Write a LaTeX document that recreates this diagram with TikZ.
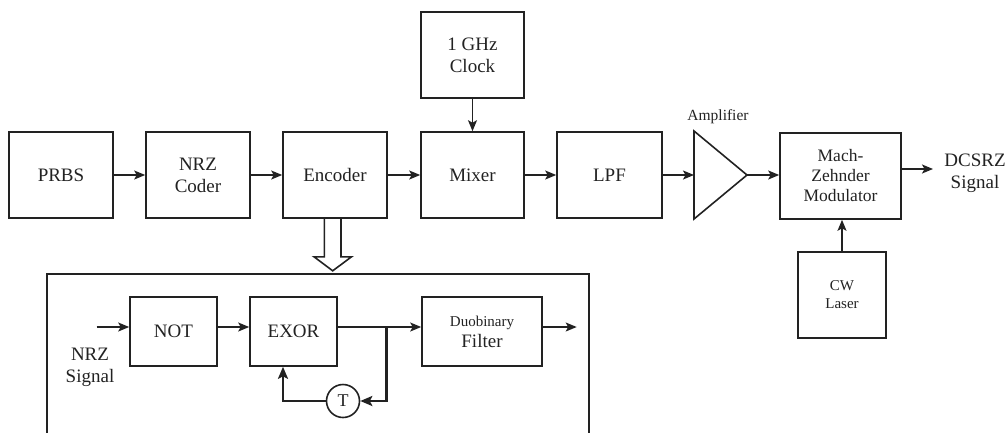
\documentclass[tikz,border=0pt]{standalone}
\usepackage{fontspec}
\setmainfont{Liberation Serif}
\usetikzlibrary{arrows.meta,calc}
\definecolor{ink}{HTML}{222222}
\tikzset{
  box/.style={draw=ink, line width=1.6pt, inner sep=0pt, align=center, text=ink,
    font=\fontsize{19}{22}\selectfont},
  link/.style={draw=ink, line width=1.6pt, -{Stealth[length=11pt,width=9pt,inset=2.5pt]}},
  fb/.style={draw=ink, line width=2.6pt},
  lbl/.style={align=center, text=ink, inner sep=0pt},
}
\begin{document}
\begin{tikzpicture}[x=1pt,y=-1pt]
\useasboundingbox (0,0) rectangle (1008,432);

% transmitter chain
\node[box, minimum width=104pt, minimum height=86pt] (prbs) at (61,175) {PRBS};
\node[box, minimum width=104pt, minimum height=86pt] (nrz) at (198,175) {NRZ\\Coder};
\node[box, minimum width=104pt, minimum height=86pt] (enc) at (335,175) {Encoder};
\node[box, minimum width=103pt, minimum height=86pt] (mix) at (472.5,175) {Mixer};
\node[box, minimum width=103pt, minimum height=86pt] (clk) at (472.5,55) {1 GHz\\Clock};
\node[box, minimum width=105pt, minimum height=86pt] (lpf) at (609.5,175) {LPF};
\node[box, minimum width=121pt, minimum height=86pt, font=\fontsize{17.5}{20}\selectfont]
  (mzm) at (840.5,176) {Mach-\\Zehnder\\Modulator};
\node[box, minimum width=88pt, minimum height=86pt, font=\fontsize{15}{18}\selectfont]
  (laser) at (842,295) {CW\\Laser};

% amplifier
\coordinate (ampin) at (694,175);
\coordinate (ampout) at (747,175);
\draw[ink, line width=1.6pt, line join=miter] (694,131) -- (ampout) -- (694,219) -- cycle;
\node[lbl, font=\fontsize{15.5}{18}\selectfont] (amplbl) at (718,117) {Amplifier};

% output
\coordinate (mzout) at (933,169);
\node[lbl, font=\fontsize{19}{22}\selectfont] (dcsrz) at (975,173) {DCSRZ\\Signal};

\draw[link] (prbs) -- (nrz);
\draw[link] (nrz) -- (enc);
\draw[link] (enc) -- (mix);
\draw[link] (mix) -- (lpf);
\draw[link] (clk) -- (mix);
\draw[link] (lpf.east) -- (ampin);
\draw[link] (ampout) -- (mzm.west |- ampout);
\draw[link] (laser.north) -- (laser.north |- mzm.south);
\draw[link] (mzm.east |- mzout) -- (mzout);

% hollow arrow to the encoder detail
\coordinate (hs) at ($(enc.south)+(-2.3,0)$);
\draw[ink, line width=1.6pt] ($(hs)+(-8.4,0)$) -- ++(0,38) -- ++(-10.3,0) -- ($(hs)+(0,52)$)
  -- ($(hs)+(18.8,38)$) -- ++(-10.5,0) -- ++(0,-38);

% encoder detail frame
\draw[ink, line width=1.6pt] (47,440) -- (47,274) -- (589,274) -- (589,440);

\coordinate (mainline) at (0,327);
\node[box, minimum width=87pt, minimum height=69pt] (not) at (173.5,331.5) {NOT};
\node[box, minimum width=87pt, minimum height=69pt] (exor) at (293.5,331.5) {EXOR};
\node[box, minimum width=120pt, minimum height=69pt] (duo) at (482,331.5)
  {{\fontsize{15}{18}\selectfont Duobinary}\\[-1pt]Filter};
\node[draw=ink, circle, line width=1.6pt, minimum size=33pt, inner sep=0pt, text=ink,
  font=\fontsize{18}{20}\selectfont] (t) at (343,401) {T};

\coordinate (nrzin) at (96.7,327);
\node[lbl, font=\fontsize{19}{22}\selectfont] (nrzlbl) at (90,367) {NRZ\\Signal};
\coordinate (br) at (386.7,327);
\coordinate (duoout) at (576.7,327);

\draw[link] (nrzin) -- (not.west |- mainline);
\draw[link] (not.east |- mainline) -- (exor.west |- mainline);
\draw[ink, line width=1.6pt] (exor.east |- mainline) -- (br);
\draw[link] (br) -- (duo.west |- mainline);
\draw[link] (duo.east |- mainline) -- (duoout);

% delay feedback
\draw[fb, -{Stealth[length=12pt,width=10pt,inset=2.5pt]}] (br) |- (t.east);
\draw[fb, -{Stealth[length=12pt,width=10pt,inset=2.5pt]}] (t.west) -| ($(exor.south)+(-10.5,0)$);
\end{tikzpicture}
\end{document}
